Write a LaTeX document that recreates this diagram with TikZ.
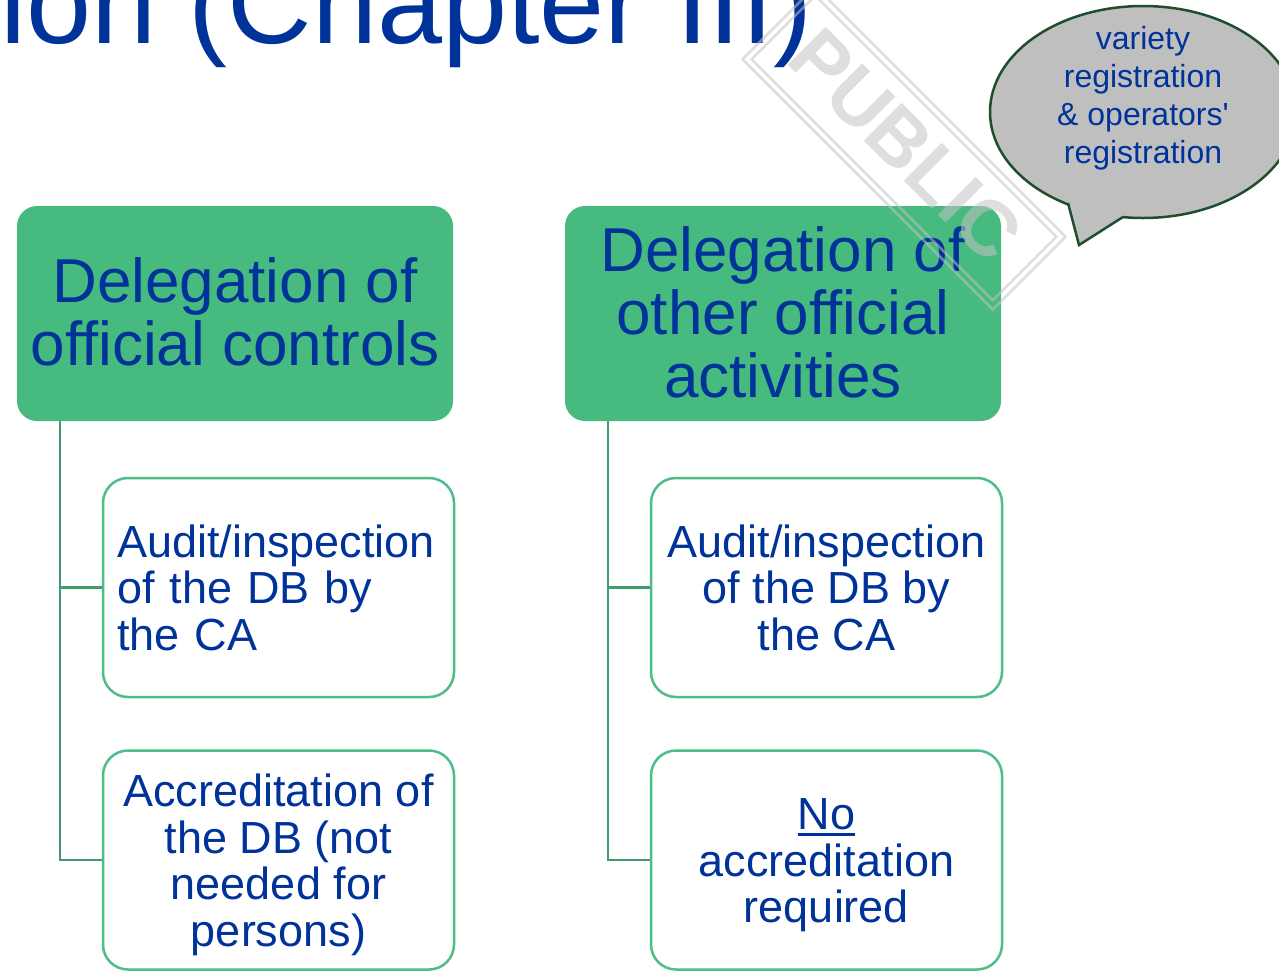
\documentclass[tikz,border=0pt]{standalone}
\usepackage{fontspec}
\setmainfont{Liberation Sans}
\usetikzlibrary{shapes.geometric}
\definecolor{tblue}{HTML}{003399}
\definecolor{gfill}{HTML}{47BA7F}
\definecolor{gline}{HTML}{4EBD87}
\definecolor{gconn}{HTML}{3F9C6E}
\definecolor{cfill}{HTML}{BFBFBF}
\definecolor{cline}{HTML}{1F4D2E}
\definecolor{wm}{HTML}{C4C4C4}
\newcommand\myul[1]{\setbox0\hbox{#1}\rlap{\rule[-6.5pt]{\wd0}{3pt}}#1}
\begin{document}
\begin{tikzpicture}[x=1pt,y=-1pt,
  headbox/.style={rectangle, rounded corners=20pt, fill=gfill, minimum width=436pt, minimum height=215pt, text=tblue, align=center, font=\fontsize{62}{63}\selectfont, inner sep=0pt},
  subbox/.style={rectangle, rounded corners=25pt, draw=gline, line width=2.5pt, fill=white, minimum width=351pt, minimum height=219pt, text=tblue, font=\fontsize{45}{46.5}\selectfont, inner sep=0pt},
  conn/.style={draw=gconn, line width=2.5pt},
  wmframe/.style={draw=wm, line width=2.6pt, rotate=-45, draw opacity=0.55, inner sep=0pt},
]
\useasboundingbox (0,0) rectangle (1279,970);
\fill[white] (0,0) rectangle (1279,970);

% title
\node[anchor=base west, inner sep=0pt, text=tblue, font=\fontsize{117}{117}\selectfont] (title) at (0,43) {ion (Chapter III)};

% head boxes
\node[headbox] (b1) at (235,313.5) {Delegation of\\official controls\rule[-3pt]{0pt}{3pt}};
\node[headbox] (b2) at (783,313.5) {Delegation of\\other official\\activities\rule[-3pt]{0pt}{3pt}};

% sub boxes
\node[subbox, align=left, text width=323pt] (c1) at (278.5,587.5) {Audit/inspection\\of the DB by\\the CA};
\node[subbox, align=center] (c2) at (278.5,860) {\rule{0pt}{42pt}Accreditation of\\the DB (not\\needed for\\persons)};
\node[subbox, align=center] (d1) at (826.5,587.5) {Audit/inspection\\of the DB by\\the CA};
\node[subbox, align=center] (d2) at (826.5,860) {\rule{0pt}{42pt}\myul{No}\\accreditation\\required};

% connectors
\draw[conn] ([xshift=43pt]b1.south west) |- (c1.west);
\draw[conn] ([xshift=43pt]b1.south west) |- (c2.west);
\draw[conn] ([xshift=43pt]b2.south west) |- (d1.west);
\draw[conn] ([xshift=43pt]b2.south west) |- (d2.west);

% callout
\node[ellipse, draw=cline, line width=2.5pt, fill=cfill, minimum width=306pt, minimum height=212pt, inner sep=0pt] (call) at (1143,112) {};
\fill[cfill] (1068,203) -- (1079,245) -- (1123,217) -- (1121,196) -- (1071,190) -- cycle;
\draw[cline, line width=2.5pt, line join=miter] (1068,203) -- (1079,245) -- (1123,217);
\node[text=tblue, align=center, font=\fontsize{32}{38}\selectfont, inner sep=0pt] (ctext) at (1143,98) {variety\\registration\\\& operators\textquotesingle\\registration};

% watermark
\node[wmframe, minimum width=354pt, minimum height=103pt] (wmo) at (904,148) {};
\node[wmframe, minimum width=341pt, minimum height=90pt] (wmi) at (904,148) {};
\node[text=wm, rotate=-45, text opacity=0.55, inner sep=0pt, font=\bfseries\fontsize{78}{78}\selectfont] (wmt) at (906,145) {PUBLIC};
\end{tikzpicture}
\end{document}
